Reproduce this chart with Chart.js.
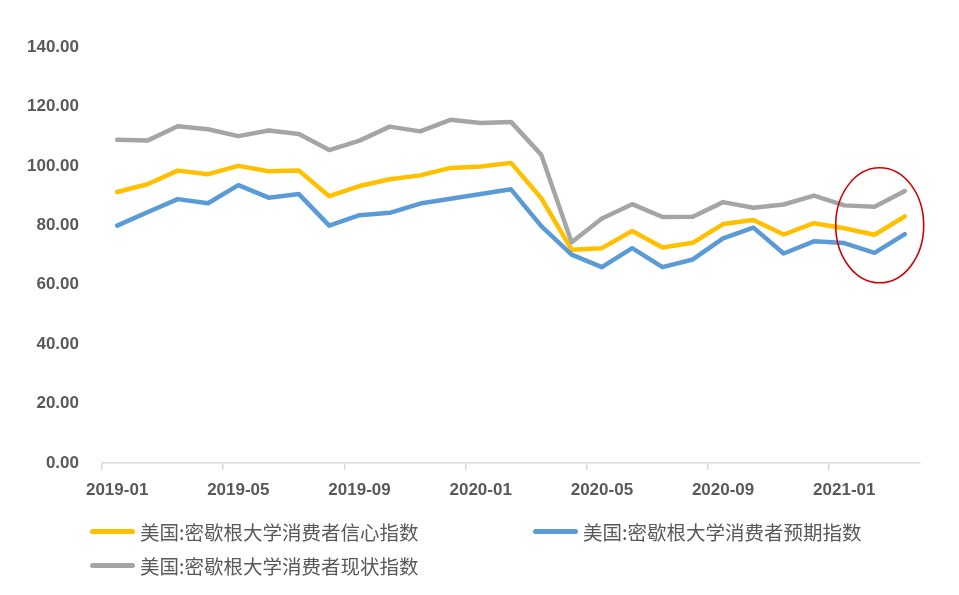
<!DOCTYPE html>
<html lang="zh">
<head>
  <meta charset="UTF-8" />
  <title>密歇根大学消费者信心指数</title>
  <style>
    body {
      margin: 0;
      background: #fff;
    }

    #wrap {
      position: relative;
      width: 959px;
      height: 595px;
    }

    .legend-item {
      position: absolute;
      display: flex;
      align-items: center;
      font-family: "Noto Sans CJK SC", sans-serif;
      font-size: 19.5px;
      color: #595959;
      white-space: nowrap;
    }

    .legend-item span.swatch {
      display: inline-block;
      width: 45px;
      height: 5px;
      border-radius: 3px;
      margin-right: 5px;
    }
  </style>
</head>
<body>

<div id="wrap">
  <canvas id="chart" width="959" height="595"></canvas>
  <div id="legend"></div>
</div>

<script src="https://cdn.jsdelivr.net/npm/chart.js"></script>

<script>
  const months = [
    '2019-01', '2019-02', '2019-03', '2019-04', '2019-05', '2019-06', '2019-07', '2019-08', '2019-09',
    '2019-10', '2019-11', '2019-12', '2020-01', '2020-02', '2020-03', '2020-04', '2020-05', '2020-06',
    '2020-07', '2020-08', '2020-09', '2020-10', '2020-11', '2020-12', '2021-01', '2021-02', '2021-03'
  ];

  const sentiment = [
    91.2, 93.8, 98.4, 97.2, 100.0, 98.2, 98.4, 89.8, 93.2,
    95.5, 96.8, 99.3, 99.8, 101.0, 89.1, 71.8, 72.3, 78.1,
    72.5, 74.1, 80.4, 81.8, 76.9, 80.7, 79.0, 76.8, 83.0
  ];

  const expectations = [
    79.9, 84.4, 88.8, 87.4, 93.5, 89.3, 90.5, 79.9, 83.4,
    84.2, 87.3, 88.9, 90.5, 92.1, 79.7, 70.1, 65.9, 72.3,
    65.9, 68.5, 75.6, 79.2, 70.5, 74.6, 74.0, 70.7, 77.0
  ];

  const current = [
    108.8, 108.5, 113.3, 112.3, 110.0, 111.9, 110.7, 105.3, 108.5,
    113.2, 111.6, 115.5, 114.4, 114.8, 103.7, 74.3, 82.3, 87.1,
    82.8, 82.9, 87.8, 85.9, 87.0, 90.0, 86.7, 86.2, 91.5
  ];

  const seriesNames = [
    '美国:密歇根大学消费者信心指数',
    '美国:密歇根大学消费者预期指数',
    '美国:密歇根大学消费者现状指数'
  ];
  const seriesColors = ['#FFC000', '#5B9BD5', '#A5A5A5'];

  // 图例位置（手动排版，和原图一致）
  const legendPos = [
    { left: 90, top: 531 },
    { left: 533, top: 531 },
    { left: 90, top: 565 }
  ];

  const legendDiv = document.getElementById('legend');
  seriesNames.forEach((name, i) => {
    const item = document.createElement('div');
    item.className = 'legend-item';
    item.style.left = legendPos[i].left + 'px';
    item.style.top = (legendPos[i].top - 14) + 'px';
    item.innerHTML = `<span class="swatch" style="background:${seriesColors[i]}"></span>${name}`;
    legendDiv.appendChild(item);
  });

  // 红色椭圆标注
  const ellipsePlugin = {
    id: 'ellipse',
    afterDatasetsDraw(chart) {
      const { ctx, scales } = chart;
      const cx = (scales.x.getPixelForValue(25) + scales.x.getPixelForValue(26)) / 2 - 10;
      const cy = scales.y.getPixelForValue(80);
      ctx.save();
      ctx.strokeStyle = '#D00000';
      ctx.lineWidth = 1.6;
      ctx.beginPath();
      ctx.ellipse(cx, cy, 44, 57.5, 0, 0, Math.PI * 2);
      ctx.stroke();
      ctx.restore();
    }
  };

  const lineDataset = (i, data) => ({
    label: seriesNames[i],
    data: data,
    borderColor: seriesColors[i],
    backgroundColor: seriesColors[i],
    borderWidth: 4.5,
    pointRadius: 0,
    tension: 0,
    borderJoinStyle: 'round',
    borderCapStyle: 'round',
    order: 2 - i
  });

  new Chart(document.getElementById('chart'), {
    type: 'line',
    data: {
      labels: months,
      datasets: [
        lineDataset(0, sentiment),
        lineDataset(1, expectations),
        lineDataset(2, current)
      ]
    },
    options: {
      responsive: false,
      animation: false,
      layout: {
        padding: { left: 0, right: 39, top: 47, bottom: 92 }
      },
      plugins: {
        legend: { display: false },
        tooltip: { enabled: false }
      },
      scales: {
        x: {
          type: 'category',
          offset: true,
          grid: {
            offset: true,
            drawOnChartArea: false,
            drawTicks: true,
            tickLength: 7,
            lineWidth: 1.5,
            color: (ctx) => (ctx.index % 4 === 0 ? '#D9D9D9' : 'rgba(0,0,0,0)')
          },
          border: { color: '#D9D9D9', width: 1.5 },
          ticks: {
            autoSkip: false,
            maxRotation: 0,
            padding: 10,
            color: '#595959',
            font: { family: 'Liberation Sans', size: 17, weight: 'bold' },
            callback: function (value, index) {
              return index % 4 === 0 ? months[index] : '';
            }
          },
          afterFit: (scale) => { scale.height = 40; }
        },
        y: {
          min: 0,
          max: 140,
          grid: { display: false },
          border: { display: false },
          ticks: {
            stepSize: 20,
            padding: 15,
            color: '#595959',
            font: { family: 'Liberation Sans', size: 17, weight: 'bold' },
            callback: (v) => v.toFixed(2)
          },
          afterFit: (scale) => { scale.width = 102; }
        }
      }
    },
    plugins: [ellipsePlugin]
  });
</script>

</body>
</html>
